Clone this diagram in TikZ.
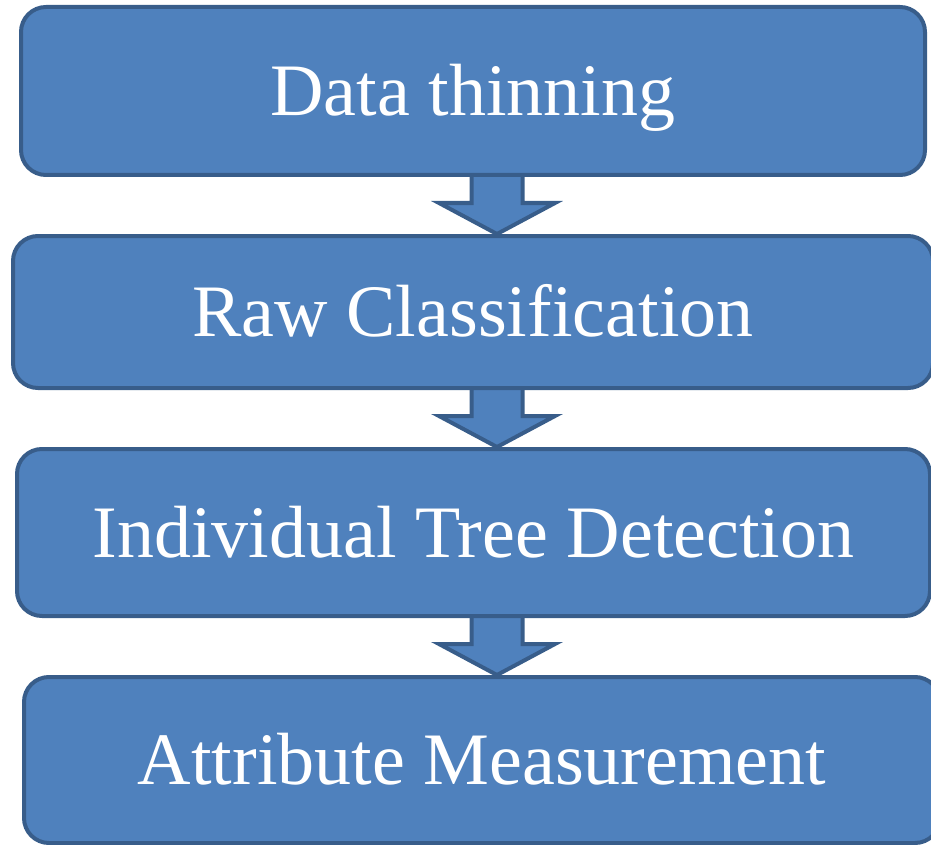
\documentclass[tikz,border=0pt]{standalone}
\usepackage{fontspec}
\setmainfont{Liberation Serif}
\usetikzlibrary{backgrounds,calc}

\definecolor{stepfill}{HTML}{4F81BD}
\definecolor{stepline}{HTML}{385D8A}

\begin{document}
\begin{tikzpicture} [x=1pt,y=-1pt,
			stepbox/.style={draw=stepline,fill=stepfill,line width=4pt,rounded corners=25pt,
				inner sep=0pt,text=white,font=\fontsize{74}{80}\selectfont,
				text height=49pt,text depth=0pt},
			flow/.style={draw=stepline,fill=stepfill,line width=4pt,line join=miter}
			]
		\useasboundingbox (0,0) rectangle (931,845);
		%\draw[step=50, color=gray] (0,0) grid (931,845);
		\node [stepbox, minimum width=904pt, minimum height=168pt] (thin) at (473,91) {Data thinning};
		\node [stepbox, minimum width=920pt, minimum height=152pt] (raw) at (473,312) {Raw Classification};
		\node [stepbox, minimum width=913pt, minimum height=167pt] (itd) at (473.5,532.5) {Individual Tree Detection};
		\node [stepbox, minimum width=916pt, minimum height=166pt] (attr) at (482,760) {Attribute Measurement};

		\coordinate (ax) at (497,0);

		\begin{scope}[on background layer]
		\foreach \a/\b in {thin/raw, raw/itd, itd/attr}
			\draw [flow] ([xshift=-25.5pt]ax |- \a.south)
				-- ([xshift=-25.5pt,yshift=31pt]ax |- \b.north)
				-- ([xshift=-58pt,yshift=31pt]ax |- \b.north)
				-- (ax |- \b.north)
				-- ([xshift=58pt,yshift=31pt]ax |- \b.north)
				-- ([xshift=25.5pt,yshift=31pt]ax |- \b.north)
				-- ([xshift=25.5pt]ax |- \a.south);
		\end{scope}
		\end{tikzpicture}
\end{document}
